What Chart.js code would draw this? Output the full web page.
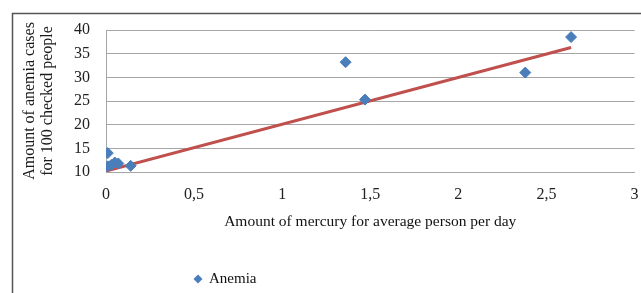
<!DOCTYPE html>
<html>
<head>
<meta charset="utf-8">
<script src="https://cdn.jsdelivr.net/npm/chart.js@4/dist/chart.umd.min.js"></script>
<style>
  html, body { margin: 0; padding: 0; background: #ffffff; }
  #wrap { position: relative; width: 641px; height: 293px; }
</style>
</head>
<body>
<div id="wrap"><canvas id="c" width="641" height="293"></canvas></div>
<script>
// Data
const mercuryPerDay = [0.01, 0.01, 0.03, 0.05, 0.07, 0.14, 1.36, 1.47, 2.38, 2.64];
const anemiaCases   = [14.0, 11.2, 11.5, 12.0, 11.8, 11.3, 33.2, 25.3, 31.0, 38.5];
const trendX = [0, 2.64];
const trendY = [10.2, 36.3];
const xTicks = [0, 0.5, 1, 1.5, 2, 2.5, 3];
const yTicks = [10, 15, 20, 25, 30, 35, 40];
const seriesName = 'Anemia';
const xTitle = 'Amount of mercury for average person per day';
const yTitle = ['Amount of anemia cases', 'for 100 checked people'];

const BLUE = '#4a7ebb';
const RED = '#c0504d';
const SERIF = '"Liberation Serif", "Times New Roman", serif';

const frame = {
  id: 'frame',
  beforeDraw(chart) {
    const ctx = chart.ctx;
    ctx.save();
    ctx.fillStyle = '#ffffff';
    ctx.fillRect(0, 0, chart.width, chart.height);
    ctx.strokeStyle = '#555555';
    ctx.lineWidth = 1.5;
    ctx.beginPath();
    ctx.moveTo(12.5, chart.height);
    ctx.lineTo(12.5, 13.5);
    ctx.lineTo(chart.width, 13.5);
    ctx.stroke();
    ctx.restore();
  },
  afterDraw(chart) {
    const ctx = chart.ctx;
    const ds = chart.data.datasets[0];
    ctx.save();
    const cx = 198, cy = 279, r = 4.5;
    ctx.fillStyle = ds.backgroundColor;
    ctx.beginPath();
    ctx.moveTo(cx, cy - r);
    ctx.lineTo(cx + r, cy);
    ctx.lineTo(cx, cy + r);
    ctx.lineTo(cx - r, cy);
    ctx.closePath();
    ctx.fill();
    ctx.fillStyle = '#111111';
    ctx.font = '15px ' + SERIF;
    ctx.textBaseline = 'middle';
    ctx.textAlign = 'left';
    ctx.fillText(ds.label, 209, cy);
    ctx.restore();
  }
};

new Chart(document.getElementById('c'), {
  type: 'scatter',
  data: {
    datasets: [
      {
        label: seriesName,
        data: mercuryPerDay.map((x, i) => ({ x: x, y: anemiaCases[i] })),
        backgroundColor: BLUE,
        borderColor: BLUE,
        pointStyle: 'rectRot',
        pointRadius: 5.5,
        pointHoverRadius: 5.5,
        order: 0
      },
      {
        type: 'line',
        label: 'Linear (' + seriesName + ')',
        data: trendX.map((x, i) => ({ x: x, y: trendY[i] })),
        borderColor: RED,
        backgroundColor: RED,
        borderWidth: 3,
        pointRadius: 0,
        fill: false,
        order: 1
      }
    ]
  },
  options: {
    responsive: false,
    animation: false,
    devicePixelRatio: 1,
    layout: { padding: { left: 0, right: 0, top: 30, bottom: 0 } },
    plugins: {
      legend: { display: false },
      tooltip: { enabled: false }
    },
    scales: {
      x: {
        type: 'linear',
        min: 0,
        max: 3,
        afterBuildTicks(scale) { scale.ticks = xTicks.map(v => ({ value: v })); },
        afterFit(scale) {
          scale.height = 121;
          scale.paddingLeft = 0;
          scale.paddingRight = 0;
        },
        grid: { display: false, drawTicks: false },
        border: { display: true, color: '#a6a6a6', width: 1 },
        ticks: {
          padding: 13,
          maxRotation: 0,
          autoSkip: false,
          color: '#222222',
          font: { family: SERIF, size: 16 },
          callback: v => String(v).replace('.', ',')
        },
        title: {
          display: true,
          text: xTitle,
          color: '#111111',
          font: { family: SERIF, size: 15.5 },
          padding: { top: 0, bottom: 62 }
        }
      },
      y: {
        type: 'linear',
        min: 10,
        max: 40,
        afterBuildTicks(scale) { scale.ticks = yTicks.map(v => ({ value: v })); },
        afterFit(scale) {
          scale.width = 106;
          scale.paddingTop = 0;
          scale.paddingBottom = 0;
        },
        grid: { color: '#a6a6a6', lineWidth: 1, drawTicks: false },
        border: { display: true, color: '#a6a6a6', width: 1 },
        ticks: {
          padding: 16,
          color: '#222222',
          font: { family: SERIF, size: 16 }
        },
        title: {
          display: true,
          text: yTitle,
          color: '#1a1a1a',
          font: { family: SERIF, size: 16, lineHeight: 1.12 },
          padding: { top: 21, bottom: 0 }
        }
      }
    }
  },
  plugins: [frame]
});
</script>
</body>
</html>
